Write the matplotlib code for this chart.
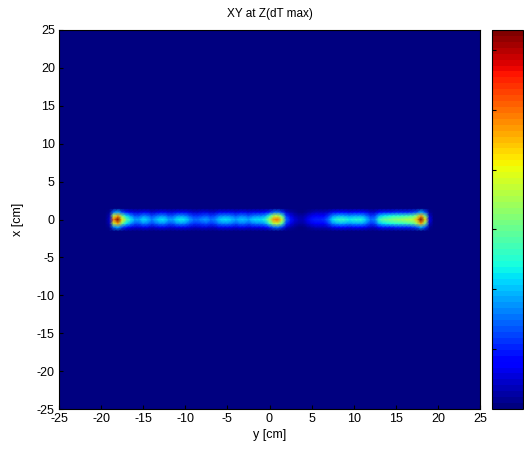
import matplotlib.pyplot as plt
import numpy as np

plt.rcParams['font.family'] = ['Liberation Sans', 'DejaVu Sans']
plt.rcParams['font.size'] = 9
plt.rcParams['axes.unicode_minus'] = False

# sample grid (cm), 0.5 cm step
grid = np.arange(-25, 25.25, 0.5)

# value along the line x = 0, for y = -19 ... 19 in 0.5 cm steps
line_y = np.arange(-19, 19.25, 0.5)
line_val = [0.4, 5.0, 6.3, 4.2, 3.0, 2.3, 1.8, 1.8, 2.2, 2.0,
            1.6, 1.9, 2.2, 2.2, 1.8, 1.8, 2.2, 2.3, 2.2, 1.8,
            1.5, 1.5, 1.7, 1.8, 1.5, 1.6, 2.0, 2.2, 2.2, 2.0,
            1.8, 2.0, 2.0, 1.8, 2.1, 2.2, 2.2, 2.5, 3.5, 4.8,
            5.0, 3.8, 1.5, 0.9, 0.5, 0.3, 0.3, 0.6, 0.9, 1.0,
            1.0, 1.1, 1.5, 2.2, 2.5, 2.6, 2.5, 2.3, 2.4, 2.5,
            2.4, 2.0, 1.5, 1.6, 2.6, 3.0, 3.1, 3.2, 3.3, 3.4,
            3.5, 3.6, 3.7, 4.5, 6.3, 4.2, 0.6]
# relative value across the line, x = -1.5 ... 1.5
cross_x = [-1.5, -1.0, -0.5, 0.0, 0.5, 1.0, 1.5]
cross_val = [0.0, 0.3, 0.75, 1.0, 0.75, 0.3, 0.0]
vmax = 6.33
cbar_ticks = [1, 2, 3, 4, 5, 6]

along = np.zeros(len(grid))
across = np.zeros(len(grid))
for y0, v in zip(line_y, line_val):
    along[np.argmin(np.abs(grid - y0))] = v
for x0, v in zip(cross_x, cross_val):
    across[np.argmin(np.abs(grid - x0))] = v
field = np.outer(across, along)

fig = plt.figure(figsize=(5.24, 4.51), dpi=100)
ax = fig.add_axes([59 / 524, 42 / 451, 421 / 524, 379 / 451])
cmap = plt.get_cmap('jet', 64)
im = ax.pcolormesh(grid, grid, field, cmap=cmap, vmin=0, vmax=vmax,
                   shading='gouraud')
ax.set_xlim(-25, 25)
ax.set_ylim(-25, 25)
ax.set_xticks(np.arange(-25, 26, 5))
ax.set_yticks(np.arange(-25, 26, 5))
ax.tick_params(direction='in', length=3, pad=3)
ax.set_xlabel('y [cm]', labelpad=3)
ax.set_ylabel('x [cm]', labelpad=9)
ax.set_title('XY at Z(dT max)', pad=9, fontsize=8.5)

cax = fig.add_axes([492 / 524, 42 / 451, 31 / 524, 379 / 451])
cb = fig.colorbar(im, cax=cax)
cb.set_ticks(cbar_ticks)
cb.ax.yaxis.set_ticks_position('left')
cb.ax.tick_params(direction='in', length=3, labelleft=False, labelright=False)

fig.savefig('out.png', dpi=100)
